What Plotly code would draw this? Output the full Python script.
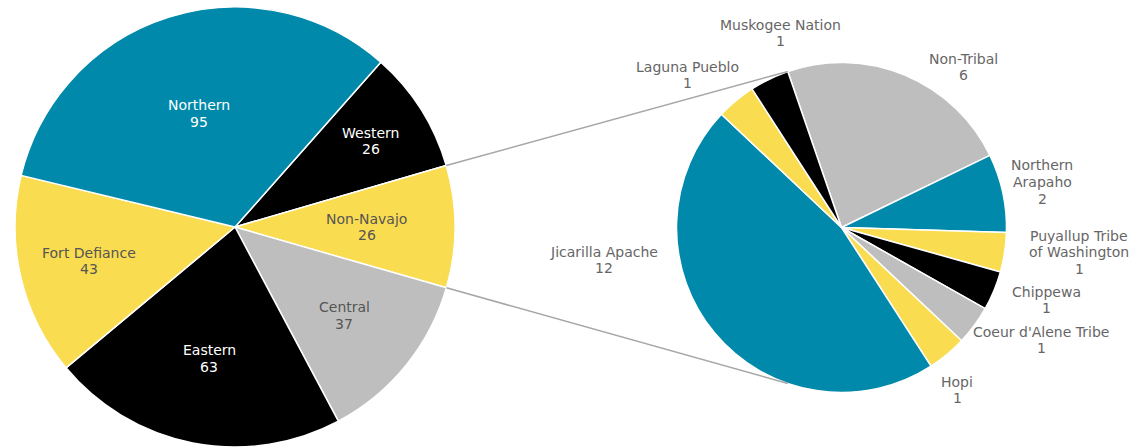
import math
import plotly.graph_objects as go

# ---------------- data ----------------
main_labels = ["Western", "Non-Navajo", "Central", "Eastern", "Fort Defiance", "Northern"]
main_values = [26, 26, 37, 63, 43, 95]
expanded_label = "Non-Navajo"

sub_labels = ["Non-Tribal", "Northern Arapaho", "Puyallup Tribe of Washington", "Chippewa",
              "Coeur d'Alene Tribe", "Hopi", "Jicarilla Apache", "Laguna Pueblo", "Muskogee Nation"]
sub_values = [6, 2, 1, 1, 1, 1, 12, 1, 1]
sub_display = [["Non-Tribal"], ["Northern", "Arapaho"], ["Puyallup Tribe", "of Washington"], ["Chippewa"],
               ["Coeur d'Alene Tribe"], ["Hopi"], ["Jicarilla Apache"], ["Laguna Pueblo"], ["Muskogee Nation"]]

# ---------------- style ----------------
BLUE, BLACK, YELLOW, GRAY = "#0089AB", "#000000", "#FADC50", "#BEBEBE"
main_colors = [BLACK, YELLOW, GRAY, BLACK, YELLOW, BLUE]
sub_colors = [GRAY, BLUE, YELLOW, BLACK, GRAY, YELLOW, BLUE, YELLOW, BLACK]
FONT = "DejaVu Sans"
FS = 14
LINE_H = 16.5

W, H = 1148, 448
L_CX, L_CY, L_R = 235, 227, 220
R_CX, R_CY, R_R = 841.5, 227.5, 165
main_rotation = 41.5
sub_rotation = -19
main_label_frac = [0.73, 0.60, 0.64, 0.61, 0.68, 0.54]
# label block centres (pixels) for the small pie
sub_label_pos = [(963, 67), (1042, 182), (1079, 252), (1046, 300), (1041, 340),
                 (957, 390), (604, 260), (687, 75), (780, 33)]


def px(x):
    return x / W


def py(y):
    return 1 - y / H


def pt(cx, cy, r, ang_deg):
    a = math.radians(ang_deg)
    return cx + r * math.sin(a), cy - r * math.cos(a)


def slice_angles(values, rotation):
    tot = sum(values)
    out, cur = [], rotation
    for v in values:
        span = v / tot * 360
        out.append((cur, cur + span))
        cur += span
    return out


def text_block(lines, cx, cy, color):
    n = len(lines)
    out = []
    for i, ln in enumerate(lines):
        y = cy + (i - (n - 1) / 2) * LINE_H
        out.append(dict(x=px(cx), y=py(y), xref="paper", yref="paper", showarrow=False,
                        text=ln, font=dict(family=FONT, size=FS, color=color),
                        xanchor="center", yanchor="middle"))
    return out


fig = go.Figure()
fig.add_trace(go.Pie(
    labels=main_labels, values=main_values, sort=False, direction="clockwise",
    rotation=main_rotation, textinfo="none", hoverinfo="label+value",
    marker=dict(colors=main_colors, line=dict(color="white", width=1.5)),
    domain=dict(x=[px(L_CX - L_R), px(L_CX + L_R)], y=[py(L_CY + L_R), py(L_CY - L_R)]),
    showlegend=False,
))
fig.add_trace(go.Pie(
    labels=sub_labels, values=sub_values, sort=False, direction="clockwise",
    rotation=sub_rotation, textinfo="none", hoverinfo="label+value",
    marker=dict(colors=sub_colors, line=dict(color="white", width=1.5)),
    domain=dict(x=[px(R_CX - R_R), px(R_CX + R_R)], y=[py(R_CY + R_R), py(R_CY - R_R)]),
    showlegend=False,
))

annotations = []
main_ang = slice_angles(main_values, main_rotation)
for lab, val, col, (a0, a1), f in zip(main_labels, main_values, main_colors, main_ang, main_label_frac):
    x, y = pt(L_CX, L_CY, L_R * f, (a0 + a1) / 2)
    tcol = "white" if col in (BLUE, BLACK) else "#555555"
    annotations += text_block([lab, str(val)], x, y, tcol)

for lines, val, (x, y) in zip(sub_display, sub_values, sub_label_pos):
    annotations += text_block(lines + [str(val)], x, y, "#666666")

# connector lines from expanded slice to the small pie
ei = main_labels.index(expanded_label)
e0, e1 = main_ang[ei]
p_top_l = pt(L_CX, L_CY, L_R, e0)
p_bot_l = pt(L_CX, L_CY, L_R, e1)
p_top_r = pt(R_CX, R_CY, R_R, sub_rotation)
p_bot_r = pt(R_CX, R_CY, R_R, 180 - sub_rotation)
shapes = []
for a, b in ((p_top_l, p_top_r), (p_bot_l, p_bot_r)):
    shapes.append(dict(type="line", xref="paper", yref="paper",
                       x0=px(a[0]), y0=py(a[1]), x1=px(b[0]), y1=py(b[1]),
                       line=dict(color="#A6A6A6", width=1.5)))

fig.update_layout(
    width=W, height=H, margin=dict(l=0, r=0, t=0, b=0),
    paper_bgcolor="white", plot_bgcolor="white",
    annotations=annotations, shapes=shapes,
    font=dict(family=FONT, size=FS),
)
fig.write_html("out.html", config={"displayModeBar": False},
               post_script="document.body.style.margin='0';document.body.style.overflow='hidden';")
